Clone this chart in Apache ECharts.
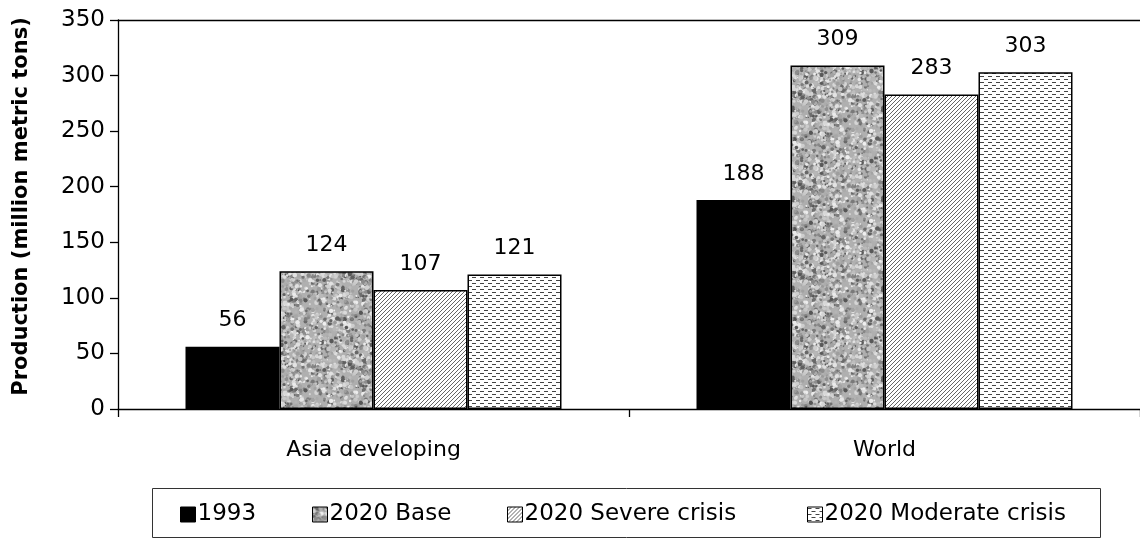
<!DOCTYPE html>
<html><head><meta charset="utf-8">
<script src="https://cdn.jsdelivr.net/npm/echarts@6/dist/echarts.min.js"></script>
<style>html,body{margin:0;padding:0;background:#fff}#c{width:1140px;height:544px}</style>
</head><body><div id="c"></div>
<script>
// ---- data ----
const categories = ['Asia developing', 'World'];
const seriesNames = ['1993', '2020 Base', '2020 Severe crisis', '2020 Moderate crisis'];
const values1993 = [56, 188];
const valuesBase = [124, 309];
const valuesSevere = [107, 283];
const valuesModerate = [121, 303];
const yMin = 0, yMax = 350, yStep = 50;
const yTitle = 'Production (million metric tons)';

// ---- patterns (style only) ----
function granite() {
  const n = 90, c = document.createElement('canvas'); c.width = c.height = n;
  const g = c.getContext('2d');
  g.fillStyle = '#b0b0b0'; g.fillRect(0, 0, n, n);
  let s = 98765;
  const r = () => { s = (s * 1103515245 + 12345) & 0x7fffffff; return s / 0x7fffffff; };
  for (let i = 0; i < 1200; i++) {
    const x = r() * n, y = r() * n, rad = 0.7 + r() * 1.6, t = r();
    let v;
    if (t < 0.28) v = 85 + Math.floor(r() * 60);
    else if (t < 0.72) v = 195 + Math.floor(r() * 45);
    else v = 150 + Math.floor(r() * 40);
    g.fillStyle = 'rgb(' + v + ',' + v + ',' + v + ')';
    for (const dx of [-n, 0, n]) for (const dy of [-n, 0, n]) {
      g.beginPath(); g.arc(x + dx, y + dy, rad, 0, Math.PI * 2); g.fill();
    }
  }
  return c;
}
function hatch() {
  const n = 4, c = document.createElement('canvas'); c.width = c.height = n;
  const g = c.getContext('2d');
  g.fillStyle = '#fff'; g.fillRect(0, 0, n, n);
  g.fillStyle = '#666';
  for (let x = 0; x < n; x++) for (let y = 0; y < n; y++) if ((x + y) % n === n - 1) g.fillRect(x, y, 1, 1);
  return c;
}
function dashes() {
  const c = document.createElement('canvas'); c.width = 8; c.height = 6;
  const g = c.getContext('2d');
  g.fillStyle = '#fff'; g.fillRect(0, 0, 8, 6);
  g.fillStyle = '#444';
  g.fillRect(0, 1, 4, 1); g.fillRect(4, 4, 4, 1);
  return c;
}
const fills = ['#000000',
  { image: granite(), repeat: 'repeat' },
  { image: hatch(), repeat: 'repeat' },
  { image: dashes(), repeat: 'repeat' }];
const seriesValues = [values1993, valuesBase, valuesSevere, valuesModerate];

const FONT = 'DejaVu Sans';
const chart = echarts.init(document.getElementById('c'), null, { renderer: 'canvas' });
const legendLefts = [180, 312, 507, 807];
chart.setOption({
  animation: false,
  backgroundColor: '#ffffff',
  textStyle: { fontFamily: FONT },
  grid: { left: 118, top: 20, width: 1026, bottom: 135, containLabel: false },
  legend: seriesNames.map((nm, i) => ({
    data: [nm], left: legendLefts[i], top: 503, icon: 'rect', itemWidth: 15, itemHeight: 15, itemGap: 0,
    padding: 0, textStyle: { fontSize: 23, color: '#000', fontFamily: FONT, padding: [0, 0, 0, -3] },
    itemStyle: { borderColor: '#000', borderWidth: 1 }
  })),
  graphic: [{ type: 'rect', shape: { x: 152.5, y: 488.5, width: 948, height: 49 },
    style: { fill: 'none', stroke: '#333', lineWidth: 1 } }],
  xAxis: [{
    type: 'category', data: categories, position: 'bottom',
    axisLine: { show: true, lineStyle: { color: '#000', width: 1.3 } },
    axisTick: { show: true, length: 8, lineStyle: { color: '#000', width: 1.3 } },
    axisLabel: { fontSize: 22, color: '#000', margin: 30, fontFamily: FONT },
    splitLine: { show: false }
  }, {
    type: 'category', data: categories, position: 'top',
    axisLine: { show: true, lineStyle: { color: '#000', width: 1.3 } },
    axisTick: { show: false }, axisLabel: { show: false }, splitLine: { show: false }
  }],
  yAxis: {
    type: 'value', min: yMin, max: yMax, interval: yStep,
    name: yTitle, nameLocation: 'middle', nameGap: 86, nameRotate: 90,
    nameTextStyle: { fontSize: 21, fontWeight: 'bold', color: '#000', fontFamily: FONT, padding: [0, 0, 0, 16] },
    axisLine: { show: true, lineStyle: { color: '#000', width: 1.3 } },
    axisTick: { show: true, length: 8, lineStyle: { color: '#000', width: 1.3 } },
    axisLabel: { fontSize: 23, color: '#000', margin: 13, fontFamily: FONT },
    splitLine: { show: false }
  },
  series: seriesNames.map((nm, i) => ({
    name: nm, type: 'bar', xAxisIndex: 0, data: seriesValues[i],
    barWidth: 94, barGap: '0%',
    itemStyle: { color: fills[i], borderColor: '#000', borderWidth: 1.5 },
    label: { show: true, position: 'top', distance: 15, fontSize: 22, color: '#000', fontFamily: FONT }
  }))
});
</script></body></html>
